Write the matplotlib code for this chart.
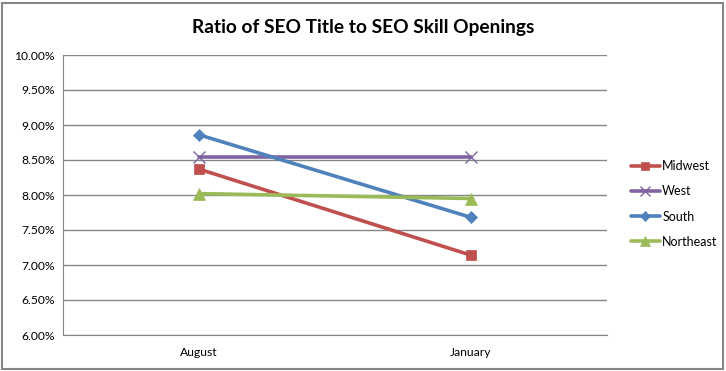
import matplotlib.pyplot as plt
from matplotlib.patches import Rectangle
from matplotlib.ticker import FuncFormatter

# data (percent)
months = ["August", "January"]
midwest = [8.37, 7.14]
west = [8.54, 8.54]
south = [8.86, 7.68]
northeast = [8.02, 7.95]

plt.rcParams['font.family'] = ['Lato', 'DejaVu Sans']

fig = plt.figure(figsize=(7.26, 3.71), dpi=100)
ax = fig.add_axes([63 / 726, 36 / 371, 544 / 726, 280 / 371])

x = range(len(months))
series = [
    ("Midwest", midwest, "#C0504D", "s", 7, None),
    ("West", west, "#8064A2", "x", 8, 1.0),
    ("South", south, "#4F81BD", "D", 6, None),
    ("Northeast", northeast, "#9BBB59", "^", 8, None),
]
for name, vals, col, mk, ms, mew in series:
    ax.plot(x, vals, color=col, lw=2.6, marker=mk, ms=ms,
            markeredgewidth=mew if mew else 0.5, label=name, solid_capstyle="round")

ax.set_xlim(-0.5, 1.5)
ax.set_ylim(6.0, 10.0)
ax.set_yticks([6 + 0.5 * i for i in range(9)])
ax.yaxis.set_major_formatter(FuncFormatter(lambda v, p: "%.2f%%" % v))
ax.set_xticks(list(x))
ax.set_xticklabels(months)
ax.tick_params(length=0, labelsize=8.7, pad=6, colors="black")
ax.tick_params(axis="x", pad=9)
ax.grid(axis="y", color="#868686", lw=1)
ax.set_axisbelow(True)
for s in ["top", "right"]:
    ax.spines[s].set_visible(False)
for s in ["left", "bottom"]:
    ax.spines[s].set_color("#868686")

fig.text(0.5, 1 - 27 / 371, "Ratio of SEO Title to SEO Skill Openings",
         ha="center", va="center", fontsize=13.8, fontweight="bold")

ax.legend(loc="center left", bbox_to_anchor=(1.035, 0.468), frameon=False,
          fontsize=9, handlelength=2.3, labelspacing=1.05, borderaxespad=0, handletextpad=0.2,
          markerscale=0.85)

fig.patches.append(Rectangle((2 / 726, 2 / 371), 721 / 726, 366 / 371, transform=fig.transFigure,
                             fill=False, edgecolor="#868686", lw=1.5))

fig.savefig("out.png", dpi=100)
